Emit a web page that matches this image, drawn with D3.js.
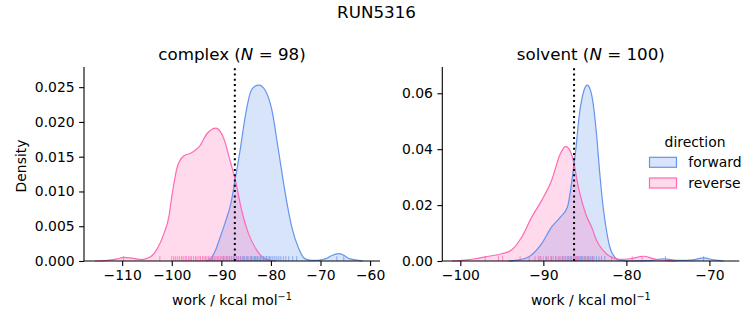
<!DOCTYPE html>
<html>
<head>
  <meta charset="utf-8">
  <title>RUN5316</title>
  <script src="https://cdn.jsdelivr.net/npm/d3@7"></script>
  <style>
    body { margin: 0; background: #fff; }
    text { font-family: "DejaVu Sans", sans-serif; fill: #000; }
  </style>
</head>
<body>
<script>
  // Size of the figure
  var width = 753;
  var height = 325;

  var blue = "#6495ed";   // forward
  var pink = "#ff69b4";   // reverse

  // complex leg: density curves
  var complexFwdX = [-93, -92.2, -91.2, -90.2, -89.1, -88.1, -87.2, -86.2, -85.2, -84.2, -83.3, -82.4, -81.2, -79.8, -78.5, -77.1, -75.8, -74.4, -73.1, -71.8, -70.5, -69.7, -68.7, -67.7, -66.3, -65.2, -64.4, -63.2, -62.3, -61.5];
  var complexFwdY = [0, 0.0003, 0.0015, 0.0035, 0.0058, 0.0082, 0.0118, 0.0160, 0.0207, 0.0241, 0.0251, 0.0253, 0.0246, 0.0217, 0.0160, 0.0097, 0.0049, 0.0018, 0.0003, 0.0001, 0.0001, 0.0002, 0.0004, 0.0008, 0.00105, 0.0008, 0.0004, 0.0002, 0.0001, 0];
  var complexRevX = [-115.5, -113, -111, -109.7, -108, -106, -104.3, -102.9, -101.6, -100.6, -99.9, -98.9, -97.6, -96.2, -94.5, -92.9, -91.05, -89.5, -88.15, -87.2, -85.9, -84.5, -82.8, -81.2, -80, -79];
  var complexRevY = [0, 0.0001, 0.0003, 0.00053, 0.0004, 0.0002, 0.0006, 0.0018, 0.0039, 0.0063, 0.0097, 0.0135, 0.0151, 0.0155, 0.0164, 0.0183, 0.0191, 0.0176, 0.0142, 0.0117, 0.0073, 0.0039, 0.0015, 0.0003, 0.0001, 0];

  // solvent leg
  var solventFwdX = [-94.2, -92.8, -91.8, -90.2, -89.0, -87.95, -87.1, -86.5, -86.1, -85.7, -85.1, -84.7, -84.4, -84.0, -83.6, -83.2, -82.8, -82.4, -82.0, -81.4, -80.8, -79.5, -77.5, -76.5, -75.5, -74.5, -73.5, -72, -70.7, -69.5, -68.3];
  var solventFwdY = [0, 0.0005, 0.0014, 0.0062, 0.0122, 0.0157, 0.0193, 0.0301, 0.0396, 0.0515, 0.0611, 0.0629, 0.0617, 0.0563, 0.0455, 0.0312, 0.0193, 0.0110, 0.0050, 0.0014, 0.0002, 0, 0.0001, 0.0004, 0.0008, 0.0004, 0.0002, 0.0004, 0.0011, 0.0004, 0];
  var solventRevX = [-101, -99.5, -98.2, -96.6, -95.0, -93.8, -92.6, -91.4, -90.2, -89.0, -87.95, -87.3, -86.5, -85.7, -84.9, -84.1, -83.6, -82.8, -82.0, -80.8, -79.55, -77.95, -76.7, -75.1, -74];
  var solventRevY = [0, 0.0003, 0.0008, 0.0017, 0.0026, 0.0040, 0.0086, 0.0157, 0.0217, 0.0289, 0.0384, 0.0410, 0.0372, 0.0253, 0.0169, 0.0115, 0.0074, 0.0038, 0.0017, 0.0006, 0.0008, 0.0017, 0.0008, 0.0001, 0];

  // Rug marks (individual work values)
  var complexFwdRug = [-91.8, -89.6, -88.9, -88.4, -87.9, -87.4, -86.9, -86.5, -86.1, -85.7, -85.3, -84.9, -84.6, -84.2, -83.9, -83.6, -83.3, -83.0, -82.7, -82.4, -82.1, -81.8, -81.5, -81.2, -80.9, -80.6, -80.3, -80.0, -79.6, -79.2, -78.8, -78.4, -78.0, -77.5, -77.0, -76.4, -75.6, -74.8, -66.7, -65.3];
  var complexRevRug = [-109.7, -102.4, -100.0, -99.6, -99.2, -98.8, -98.4, -98.0, -97.7, -97.3, -97.0, -96.6, -96.3, -96.0, -95.6, -95.2, -94.9, -94.5, -94.2, -93.8, -93.5, -93.2, -92.9, -92.6, -92.3, -92.0, -91.7, -91.4, -91.1, -90.8, -90.5, -90.2, -89.9, -89.6, -89.3, -89.0, -88.7, -88.3, -87.9, -87.5, -87.0, -86.6, -86.1, -85.5, -84.8, -84.0, -83.1];
  var solventFwdRug = [-90.4, -89.6, -89.0, -88.5, -88.1, -87.7, -87.3, -87.0, -86.7, -86.4, -86.1, -85.9, -85.7, -85.5, -85.3, -85.1, -84.9, -84.7, -84.5, -84.3, -84.1, -83.9, -83.6, -83.3, -83.0, -82.6, -75.3, -70.7];
  var solventRevRug = [-97.0, -95.4, -94.9, -92.8, -91.7, -91.0, -90.6, -90.3, -90.0, -89.7, -89.4, -89.1, -88.8, -88.5, -88.2, -87.9, -87.6, -87.4, -87.1, -86.9, -86.6, -86.3, -86.0, -85.7, -85.4, -85.0, -84.6, -84.1, -81.8, -79.3, -78.1];

  // Dotted reference lines
  var complexMark = -87.28;
  var solventMark = -86.3;

  // Ticks
  var complexXTicks = [-110, -100, -90, -80, -70, -60];
  var complexYTicks = [0, 0.005, 0.01, 0.015, 0.02, 0.025];
  var solventXTicks = [-100, -90, -80, -70];
  var solventYTicks = [0, 0.02, 0.04, 0.06];

  var panels = [
    { name: "complex", n: 98, left: 84, right: 380, xDomain: [-117.7, -58.0], yDomain: [0, 0.0279],
      xTicks: complexXTicks, yTicks: complexYTicks, yFmt: ".3f", mark: complexMark,
      fwd: { x: complexFwdX, y: complexFwdY, rug: complexFwdRug },
      rev: { x: complexRevX, y: complexRevY, rug: complexRevRug } },
    { name: "solvent", n: 100, left: 442.3, right: 739.3, xDomain: [-102.17, -66.4], yDomain: [0, 0.0694],
      xTicks: solventXTicks, yTicks: solventYTicks, yFmt: ".2f", mark: solventMark,
      fwd: { x: solventFwdX, y: solventFwdY, rug: solventFwdRug },
      rev: { x: solventRevX, y: solventRevY, rug: solventRevRug } }
  ];

  // plot area top / bottom (pixel)
  var plotTop = 67, plotBottom = 261;
  var minus = function(s) { return s.replace("-", "\u2212"); };

  var svg = d3.select("body").append("svg")
      .attr("width", width)
      .attr("height", height);

  // Figure title
  svg.append("text")
      .attr("x", width / 2).attr("y", 18.3)
      .attr("text-anchor", "middle")
      .style("font-size", "16.7px")
      .text("RUN5316");

  panels.forEach(function(p, i) {
    var x = d3.scaleLinear().domain(p.xDomain).range([p.left, p.right]);
    var y = d3.scaleLinear().domain(p.yDomain).range([plotBottom, plotTop]);
    var g = svg.append("g");

    // filled density curves, forward first
    [[p.fwd, blue], [p.rev, pink]].forEach(function(s) {
      var pts = d3.zip(s[0].x, s[0].y);
      var area = d3.area().curve(d3.curveMonotoneX)
          .x(function(d) { return x(d[0]); })
          .y0(y(0)).y1(function(d) { return y(d[1]); });
      g.append("path").datum(pts)
          .attr("d", area)
          .attr("fill", s[1]).attr("fill-opacity", 0.25);
    });
    [[p.fwd, blue], [p.rev, pink]].forEach(function(s) {
      var pts = d3.zip(s[0].x, s[0].y);
      var line = d3.line().curve(d3.curveMonotoneX)
          .x(function(d) { return x(d[0]); })
          .y(function(d) { return y(d[1]); });
      g.append("path").datum(pts)
          .attr("d", line)
          .attr("fill", "none").attr("stroke", s[1]).attr("stroke-width", 1.2);
    });

    // rug
    [[p.fwd, blue], [p.rev, pink]].forEach(function(s) {
      g.selectAll(null).data(s[0].rug).enter().append("line")
          .attr("x1", function(d) { return x(d); })
          .attr("x2", function(d) { return x(d); })
          .attr("y1", plotBottom).attr("y2", plotBottom - 4.85)
          .attr("stroke", s[1]).attr("stroke-width", 1).attr("stroke-opacity", 0.75);
    });

    // dotted vertical line
    g.append("line")
        .attr("x1", x(p.mark)).attr("x2", x(p.mark))
        .attr("y1", plotBottom).attr("y2", plotTop)
        .attr("stroke", "#000").attr("stroke-width", 2)
        .attr("stroke-dasharray", "2,3.3");

    // axes
    var xAxis = d3.axisBottom(x).tickValues(p.xTicks).tickSizeOuter(0).tickSize(4.9).tickPadding(4.5)
        .tickFormat(function(d) { return minus(String(d)); });
    var yAxis = d3.axisLeft(y).tickValues(p.yTicks).tickSizeOuter(0).tickSize(4.9).tickPadding(4.5)
        .tickFormat(d3.format(p.yFmt));
    var ax = svg.append("g").attr("transform", "translate(0," + plotBottom + ")").call(xAxis);
    var ay = svg.append("g").attr("transform", "translate(" + p.left + ",0)").call(yAxis);
    [ax, ay].forEach(function(a) {
      a.selectAll("path, line").attr("stroke", "#000").attr("stroke-width", 1.1);
      a.selectAll("text").style("font-size", "13.9px").style("font-family", "DejaVu Sans").attr("fill", "#000");
    });
    ax.select(".domain").attr("d", "M" + p.left + ",0H" + p.right);
    ay.select(".domain").attr("d", "M0," + plotBottom + "V" + plotTop);

    // x label
    var xl = svg.append("text")
        .attr("x", (p.left + p.right) / 2).attr("y", 305)
        .attr("text-anchor", "middle")
        .style("font-size", "13.9px");
    xl.append("tspan").text("work / kcal mol");
    xl.append("tspan").text("\u22121").attr("dy", -5.5).style("font-size", "9.7px");

    // panel title with italic N
    var t = svg.append("text")
        .attr("x", (p.left + p.right) / 2).attr("y", 60)
        .attr("text-anchor", "middle")
        .style("font-size", "16.7px");
    t.append("tspan").text(p.name + " (");
    t.append("tspan").text("N").style("font-style", "italic");
    t.append("tspan").text(" = " + p.n + ")");
  });

  // y label
  svg.append("text")
      .attr("transform", "translate(26,166) rotate(-90)")
      .attr("text-anchor", "middle")
      .style("font-size", "13.9px")
      .text("Density");

  // legend
  var legend = svg.append("g");
  legend.append("text")
      .attr("x", 695).attr("y", 146.5)
      .attr("text-anchor", "middle")
      .style("font-size", "13.9px")
      .text("direction");
  var labels = ["forward", "reverse"];
  var colors = [blue, pink];
  labels.forEach(function(l, i) {
    legend.append("rect")
        .attr("x", 649.5).attr("y", 157.3 + i * 20.7)
        .attr("width", 27).attr("height", 10)
        .attr("fill", colors[i]).attr("fill-opacity", 0.25)
        .attr("stroke", colors[i]).attr("stroke-width", 1.2);
    legend.append("text")
        .attr("x", 688.3).attr("y", 167 + i * 20.7)
        .style("font-size", "13.9px")
        .text(l);
  });
</script>
</body>
</html>
